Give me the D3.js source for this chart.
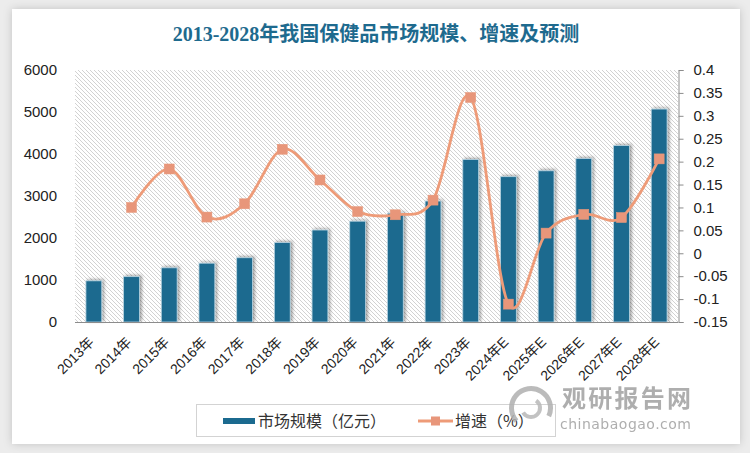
<!DOCTYPE html>
<html><head><meta charset="utf-8">
<script src="https://cdn.jsdelivr.net/npm/d3@7"></script>
<style>
html,body{margin:0;padding:0;background:#ececec;}
svg{display:block;}
</style></head>
<body>
<svg id="chart" width="750" height="453"></svg>
<script>
const categories = ["2013年","2014年","2015年","2016年","2017年","2018年","2019年","2020年","2021年","2022年","2023年","2024年E","2025年E","2026年E","2027年E","2028年E"];
const marketSize = [980,1080,1290,1400,1530,1890,2190,2400,2590,2880,3870,3460,3600,3890,4200,5070];
const growth = [null,0.10,0.184,0.079,0.108,0.227,0.160,0.091,0.084,0.116,0.340,-0.111,0.044,0.085,0.078,0.206];
const leftTicks = [0,1000,2000,3000,4000,5000,6000];
const rightTicks = [0.4,0.35,0.3,0.25,0.2,0.15,0.1,0.05,0,-0.05,-0.1,-0.15];
const titleText = "2013-2028年我国保健品市场规模、增速及预测";
const legendLabels = ["市场规模（亿元）","增速（%）"];

const svg = d3.select("#chart");
const W = 750, H = 453;
const plot = {left:75, right:678, top:70, bottom:322};
const barColor = "#1b6a8f", lineColor = "#ee9b78", markerColor = "#e8967a";
const FONT = "'Liberation Sans','Noto Sans CJK SC',sans-serif";

const defs = svg.append("defs");
const cardShadow = defs.append("filter").attr("id","cardShadow").attr("x","-5%").attr("y","-5%").attr("width","110%").attr("height","110%");
cardShadow.append("feDropShadow").attr("dx",0).attr("dy",0).attr("stdDeviation",4).attr("flood-color","#000").attr("flood-opacity",0.18);
const barShadow = defs.append("filter").attr("id","barShadow").attr("x","-50%").attr("y","-20%").attr("width","200%").attr("height","140%");
barShadow.append("feDropShadow").attr("dx",2).attr("dy",-1).attr("stdDeviation",1.6).attr("flood-color","#000").attr("flood-opacity",0.35);
const hatch = defs.append("pattern").attr("id","hatch").attr("patternUnits","userSpaceOnUse").attr("width",4).attr("height",4);
hatch.append("rect").attr("width",4).attr("height",4).attr("fill","#ffffff");
hatch.append("path").attr("d","M0,0 L4,4 M-1,3 L1,5 M3,-1 L5,1").attr("stroke","#d2d2d2").attr("stroke-width",1);

// background + card
svg.append("rect").attr("width",W).attr("height",H).attr("fill","#ececec");
svg.append("rect").attr("x",12).attr("y",9).attr("width",728).attr("height",435).attr("fill","#fff").attr("filter","url(#cardShadow)");

// title
svg.append("text").attr("x",376).attr("y",41).attr("text-anchor","middle")
  .attr("font-family","'Liberation Serif','Noto Sans CJK SC',serif").attr("font-size",20).attr("font-weight","bold")
  .attr("fill","#1e6a8e").text(titleText);

// scales
const x = d3.scaleBand().domain(categories).range([plot.left, plot.right]).paddingInner(0.58).paddingOuter(0.29);
const yL = d3.scaleLinear().domain([0,6000]).range([plot.bottom, plot.top]);
const yR = d3.scaleLinear().domain([-0.15,0.4]).range([plot.bottom, plot.top]);

// plot background
svg.append("rect").attr("x",plot.left).attr("y",plot.top).attr("width",plot.right-plot.left).attr("height",plot.bottom-plot.top).attr("fill","url(#hatch)");

// bars
svg.append("g").selectAll("rect").data(marketSize).join("rect")
  .attr("x",(d,i)=>x(categories[i]))
  .attr("y",d=>yL(d))
  .attr("width",x.bandwidth())
  .attr("height",d=>yL(0)-yL(d))
  .attr("fill",barColor)
  .attr("stroke","#b8d3e0").attr("stroke-width",0.8)
  .attr("filter","url(#barShadow)");

// x axis line
svg.append("line").attr("x1",plot.left).attr("x2",plot.right).attr("y1",plot.bottom+0.5).attr("y2",plot.bottom+0.5).attr("stroke","#8c8c8c").attr("stroke-width",1.2);

// left axis (labels only)
const gL = svg.append("g").attr("transform",`translate(${plot.left-18},0)`)
  .call(d3.axisLeft(yL).tickValues(leftTicks).tickSize(0).tickPadding(0).tickFormat(d3.format("d")));
gL.select(".domain").remove();
gL.selectAll("text").attr("font-family",FONT).attr("font-size",15).attr("fill","#222");

// right axis
const gR = svg.append("g").attr("transform",`translate(${plot.right+0.5},0)`)
  .call(d3.axisRight(yR).tickValues(rightTicks).tickSize(5).tickPadding(10).tickFormat(d=>String(+d.toFixed(2))));
gR.select(".domain").attr("stroke","#8c8c8c");
gR.selectAll(".tick line").attr("stroke","#8c8c8c");
gR.selectAll("text").attr("font-family",FONT).attr("font-size",15).attr("fill","#222");

// x labels
svg.append("g").selectAll("text").data(categories).join("text")
  .attr("transform",d=>`translate(${x(d)+x.bandwidth()/2+1},${plot.bottom+21}) rotate(-45)`)
  .attr("text-anchor","end").attr("font-family",FONT).attr("font-size",14).attr("fill","#222")
  .text(d=>d);

// line
const pts = growth.map((g,i)=>g===null?null:[x(categories[i])+x.bandwidth()/2, yR(g)]).filter(p=>p);
svg.append("path").attr("d",d3.line().curve(d3.curveCardinal.tension(0))(pts))
  .attr("fill","none").attr("stroke",lineColor).attr("stroke-width",2.8);
svg.append("g").selectAll("rect").data(pts).join("rect")
  .attr("x",d=>d[0]-5).attr("y",d=>d[1]-5).attr("width",10).attr("height",10)
  .attr("fill",markerColor).attr("stroke","#e89a7c").attr("stroke-width",0.5);

// legend
svg.append("rect").attr("x",196.5).attr("y",404.5).attr("width",359).attr("height",32).attr("fill","#fff").attr("stroke","#d3d3d3");
svg.append("rect").attr("x",223).attr("y",418).attr("width",32).attr("height",6).attr("fill",barColor);
svg.append("text").attr("x",258).attr("y",427).attr("font-family","'Noto Sans CJK SC',sans-serif").attr("font-size",16).attr("fill","#333").text(legendLabels[0]);
svg.append("line").attr("x1",418).attr("x2",453).attr("y1",421).attr("y2",421).attr("stroke",lineColor).attr("stroke-width",2.8);
svg.append("rect").attr("x",431).attr("y",416.5).attr("width",9).attr("height",9).attr("fill",markerColor);
svg.append("text").attr("x",455).attr("y",427).attr("font-family","'Noto Sans CJK SC',sans-serif").attr("font-size",16).attr("fill","#333").text(legendLabels[1]);

// watermark
const wm = svg.append("g").attr("opacity",0.85);
wm.append("path").attr("d",d3.arc()({innerRadius:17,outerRadius:22,startAngle:-2.3,endAngle:2.0})).attr("transform","translate(531,408)").attr("fill","#b0b0b0");
wm.append("path").attr("d",d3.arc()({innerRadius:7,outerRadius:11,startAngle:0.6,endAngle:4.2})).attr("transform","translate(531,408)").attr("fill","#b8b8b8");
wm.append("text").attr("x",562).attr("y",407).attr("font-family","'Noto Sans CJK SC',sans-serif").attr("font-weight","bold").attr("font-size",24).attr("fill","#a0a0a0").attr("textLength",129).text("观研报告网");
wm.append("text").attr("x",560).attr("y",429).attr("font-family","'DejaVu Sans',sans-serif").attr("font-size",14).attr("fill","#a0a0a0").attr("textLength",131).text("chinabaogao.com");
</script>
</body></html>
